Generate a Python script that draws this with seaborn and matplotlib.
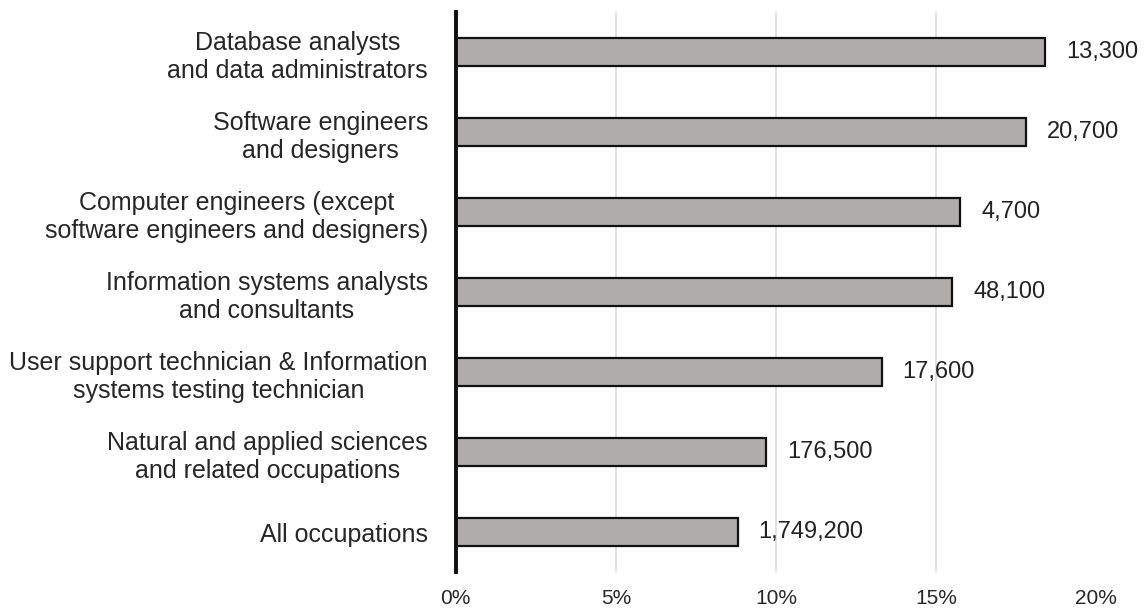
import matplotlib
matplotlib.use("Agg")
import matplotlib.pyplot as plt
import seaborn as sns
import pandas as pd

occupations = [
    "Database analysts\nand data administrators",
    "Software engineers\nand designers",
    "Computer engineers (except\nsoftware engineers and designers)",
    "Information systems analysts\nand consultants",
    "User support technician & Information\nsystems testing technician",
    "Natural and applied sciences\nand related occupations",
    "All occupations",
]
share_pct = [18.4, 17.8, 15.75, 15.5, 13.3, 9.7, 8.8]
workers = ["13,300", "20,700", "4,700", "48,100", "17,600", "176,500", "1,749,200"]

df = pd.DataFrame({"occupation": occupations, "share": share_pct})

sns.set_style("white")
plt.rcParams["font.family"] = ["Liberation Sans", "DejaVu Sans"]

fig = plt.figure(figsize=(11.48, 6.14), dpi=100)
ax = fig.add_axes([0.397, 0.068, 0.558, 0.912])

sns.barplot(data=df, x="share", y="occupation", orient="h", color="#b1adad",
            saturation=1, width=0.35, edgecolor="#111111", linewidth=1.6, ax=ax)

# labels with worker counts next to each bar
for i, (v, lab) in enumerate(zip(share_pct, workers)):
    ax.annotate(lab, xy=(v, i), xytext=(15, 0), textcoords="offset points",
                va="center", ha="left", fontsize=17, color="#222222",
                annotation_clip=False)

ax.set_xlim(0, 20)
ax.set_ylim(6.5, -0.5)
ax.set_xticks([0, 5, 10, 15, 20])
ax.set_xticklabels(["0%", "5%", "10%", "15%", "20%"])
ax.xaxis.grid(True, color="#dddddd", linewidth=1.2)
ax.xaxis.get_gridlines()[-1].set_visible(False)
ax.set_axisbelow(True)
ax.tick_params(axis="x", length=0, pad=12, labelsize=15)
ax.tick_params(axis="y", length=0, pad=20, labelsize=18)
for t in ax.get_yticklabels():
    t.set_multialignment("center")
ax.set_xlabel("")
ax.set_ylabel("")

for s in ["top", "right", "bottom"]:
    ax.spines[s].set_visible(False)
ax.spines["left"].set_linewidth(2.8)
ax.spines["left"].set_color("#111111")

fig.savefig("out.png", dpi=100)
